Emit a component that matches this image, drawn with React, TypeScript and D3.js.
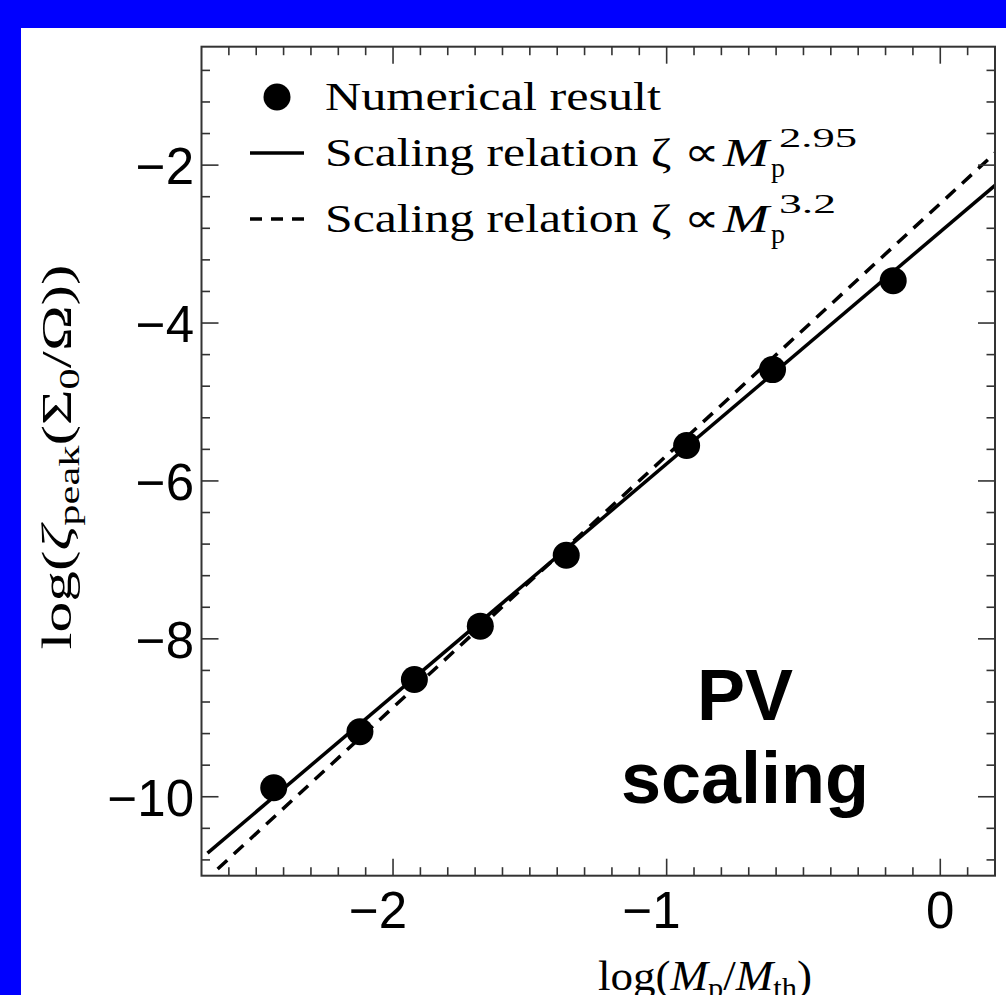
import React from 'react';
import * as d3 from 'd3';

// Numerical results: log(M_p/M_th) vs log(zeta_peak (Sigma0/Omega))
const massLog = [-2.436, -2.121, -1.922, -1.681, -1.367, -0.927, -0.613, -0.172];
const zetaLog = [-9.886, -9.177, -8.514, -7.839, -6.941, -5.551, -4.59, -3.463];

// Scaling relations (end points)
const solidFitX = [-2.678, 0.2];
const solidFitY = [-10.713, -2.257];
const dashFitX = [-2.641, 0.2];
const dashFitY = [-10.915, -1.848];

const xMajorTicks = [-2, -1, 0];
const xTickLabels = ['\u22122', '\u22121', '0'];
const yMajorTicks = [-10, -8, -6, -4, -2];
const yTickLabels = ['\u221210', '\u22128', '\u22126', '\u22124', '\u22122'];

const legendLabels = ['Numerical result', 'Scaling relation \u03B6 \u221D ', 'Scaling relation \u03B6 \u221D '];
const legendExponents = ['', '2.95', '3.2'];

export default function App() {
  const W = 1006;
  const H = 995;
  const x = d3.scaleLinear().domain([-2.7, 0.2]).range([201.5, 995]);
  const y = d3.scaleLinear().domain([-11, -0.5]).range([875.7, 46.7]);
  const [x0, x1] = x.range();
  const [yb, yt] = y.range();

  const xMinor = d3.range(-26, 2).map((i) => i / 10).filter((v) => !xMajorTicks.some((m) => Math.abs(m - v) < 1e-6));
  const yMinor = d3.range(-27, -1).map((i) => i * 0.4).filter((v) => v > -11 && v < -0.5 && !yMajorTicks.some((m) => Math.abs(m - v) < 1e-6));

  const line = d3.line<[number, number]>().x((d) => x(d[0])).y((d) => y(d[1]));
  const solidPts: [number, number][] = solidFitX.map((v, i) => [v, solidFitY[i]]);
  const dashPts: [number, number][] = dashFitX.map((v, i) => [v, dashFitY[i]]);

  const axisColor = '#333';
  const major = 17;
  const minor = 8.5;
  const serif = "'Liberation Serif', 'Times New Roman', serif";
  const sans = "'Liberation Sans', Arial, sans-serif";

  const legendRows = [97, 153, 219];
  const legendBase = [110, 166, 232];

  return (
    <svg width={W} height={H} style={{ position: 'absolute', left: 0, top: 0 }}>
      <rect x={0} y={0} width={W} height={H} fill="#0000ff" />
      <rect x={21} y={28} width={W - 21} height={H - 28} fill="#ffffff" />
      <defs>
        <clipPath id="plotclip">
          <rect x={x0} y={yt} width={x1 - x0} height={yb - yt} />
        </clipPath>
      </defs>

      {/* lines */}
      <g clipPath="url(#plotclip)">
        <path d={line(solidPts) || ''} stroke="#000" strokeWidth={3.5} fill="none" />
        <path d={line(dashPts) || ''} stroke="#000" strokeWidth={3.5} fill="none" strokeDasharray="13 9" />
      </g>

      {/* points */}
      {massLog.map((v, i) => (
        <circle key={i} cx={x(v)} cy={y(zetaLog[i])} r={13.5} fill="#000" />
      ))}

      {/* frame */}
      <rect x={x0} y={yt} width={x1 - x0} height={yb - yt} fill="none" stroke={axisColor} strokeWidth={2} />

      {/* x ticks */}
      {xMajorTicks.map((t) => (
        <g key={'xM' + t}>
          <line x1={x(t)} x2={x(t)} y1={yb} y2={yb - major} stroke={axisColor} strokeWidth={1.6} />
          <line x1={x(t)} x2={x(t)} y1={yt} y2={yt + major} stroke={axisColor} strokeWidth={1.6} />
        </g>
      ))}
      {xMinor.map((t) => (
        <g key={'xm' + t}>
          <line x1={x(t)} x2={x(t)} y1={yb} y2={yb - minor} stroke={axisColor} strokeWidth={1.6} />
          <line x1={x(t)} x2={x(t)} y1={yt} y2={yt + minor} stroke={axisColor} strokeWidth={1.6} />
        </g>
      ))}
      {/* y ticks */}
      {yMajorTicks.map((t) => (
        <g key={'yM' + t}>
          <line x1={x0} x2={x0 + major} y1={y(t)} y2={y(t)} stroke={axisColor} strokeWidth={1.6} />
          <line x1={x1} x2={x1 - major} y1={y(t)} y2={y(t)} stroke={axisColor} strokeWidth={1.6} />
        </g>
      ))}
      {yMinor.map((t) => (
        <g key={'ym' + t}>
          <line x1={x0} x2={x0 + minor} y1={y(t)} y2={y(t)} stroke={axisColor} strokeWidth={1.6} />
          <line x1={x1} x2={x1 - minor} y1={y(t)} y2={y(t)} stroke={axisColor} strokeWidth={1.6} />
        </g>
      ))}

      {/* tick labels */}
      {xMajorTicks.map((t, i) => (
        <text key={'xl' + t} x={x(t) - (t < 0 ? 15 : 0)} y={928} textAnchor="middle" fontFamily={sans} fontSize={51} fill="#000">
          {xTickLabels[i]}
        </text>
      ))}
      {yMajorTicks.map((t, i) => (
        <text key={'yl' + t} x={194} y={y(t) + 19} textAnchor="end" fontFamily={sans} fontSize={51} fill="#000">
          {yTickLabels[i]}
        </text>
      ))}

      {/* axis titles */}
      <text x={705} y={990} textAnchor="middle" fontFamily={serif} fontSize={43} fill="#000" textLength={214} lengthAdjust="spacingAndGlyphs">
        log(<tspan fontStyle="italic">M</tspan>
        <tspan fontSize={29} dy={8}>p</tspan>
        <tspan dy={-8}>/</tspan>
        <tspan fontStyle="italic">M</tspan>
        <tspan fontSize={29} dy={8}>th</tspan>
        <tspan dy={-8}>)</tspan>
      </text>
      <text transform="translate(71,457) rotate(-90)" textAnchor="middle" fontFamily={serif} fontSize={42} fill="#000" textLength={385} lengthAdjust="spacingAndGlyphs">
        log(<tspan fontStyle="italic">{'\u03B6'}</tspan>
        <tspan fontSize={29} dy={8}>peak</tspan>
        <tspan dy={-8}>({'\u03A3'}</tspan>
        <tspan fontSize={29} dy={8}>0</tspan>
        <tspan dy={-8}>/{'\u03A9'}))</tspan>
      </text>

      {/* legend */}
      <circle cx={277} cy={legendRows[0]} r={13.5} fill="#000" />
      <line x1={250} x2={304} y1={legendRows[1]} y2={legendRows[1]} stroke="#000" strokeWidth={3.5} />
      <line x1={250} x2={304} y1={legendRows[2]} y2={legendRows[2]} stroke="#000" strokeWidth={3.5} strokeDasharray="12 9" />
      {legendLabels.map((lab, i) => (
        <g key={'lg' + i}>
          {i === 0 ? (
            <text x={325} y={legendBase[i]} fontFamily={serif} fontSize={41} fill="#000" textLength={336} lengthAdjust="spacingAndGlyphs">
              {lab}
            </text>
          ) : (
            <>
              <text x={325} y={legendBase[i]} fontFamily={serif} fontSize={41} fill="#000" textLength={394} lengthAdjust="spacingAndGlyphs">
                {lab}
              </text>
              <text x={723} y={legendBase[i]} fontFamily={serif} fontSize={41} fontStyle="italic" fill="#000" textLength={46} lengthAdjust="spacingAndGlyphs">
                M
              </text>
              <text x={771} y={legendBase[i] + 11} fontFamily={serif} fontSize={28} fill="#000">p</text>
              <text x={779} y={legendBase[i] - 19} fontFamily={serif} fontSize={28} fill="#000" textLength={i === 1 ? 78 : 57} lengthAdjust="spacingAndGlyphs">
                {legendExponents[i]}
              </text>
            </>
          )}
        </g>
      ))}

      {/* annotation */}
      <text x={745} y={720} textAnchor="middle" fontFamily={sans} fontWeight="bold" fontSize={72} fill="#000">PV</text>
      <text x={745} y={803} textAnchor="middle" fontFamily={sans} fontWeight="bold" fontSize={72} fill="#000">scaling</text>
    </svg>
  );
}
